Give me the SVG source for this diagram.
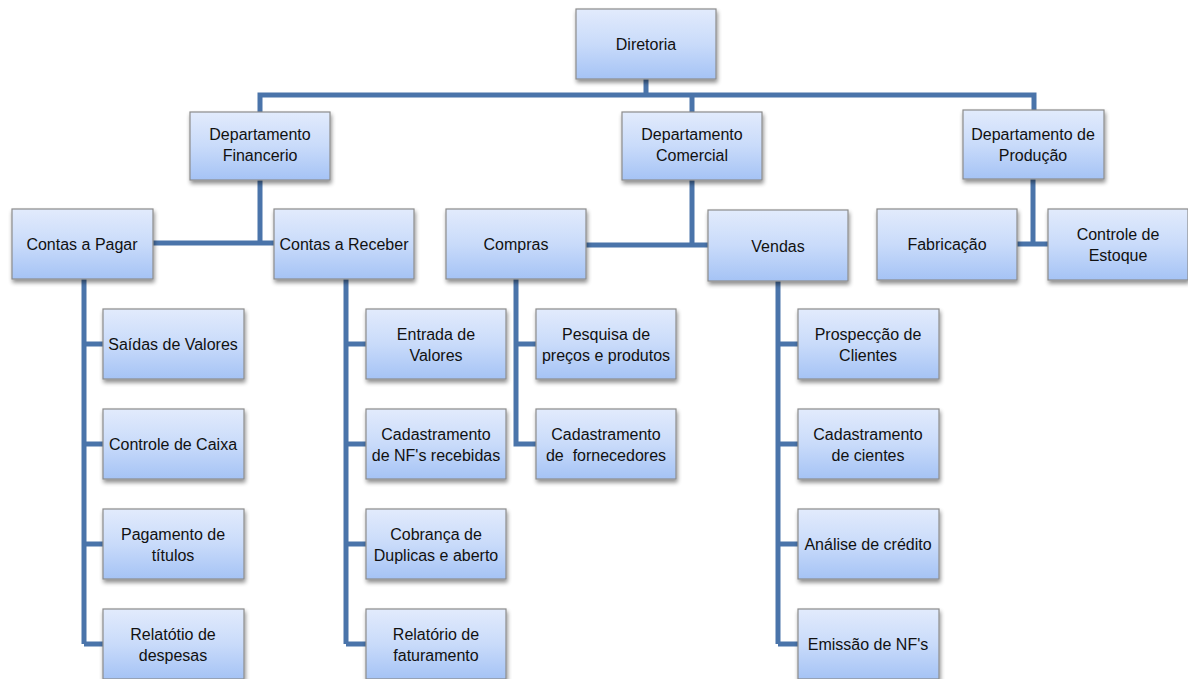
<svg xmlns="http://www.w3.org/2000/svg" width="1188" height="679" viewBox="0 0 1188 679">
<style>
.box{fill:url(#g);stroke:#8c8c8c;stroke-width:1.2;filter:url(#sh)}
.t{font-family:"Liberation Sans",Arial,sans-serif;font-size:16px;fill:#111;text-anchor:middle}
.c{fill:none;stroke:#4a74aa;stroke-width:5;stroke-linejoin:miter}
</style>
<defs>
<linearGradient id="g" x1="0" y1="0" x2="0" y2="1">
<stop offset="0" stop-color="#e2ebfc"/>
<stop offset="0.5" stop-color="#c9dbfa"/>
<stop offset="1" stop-color="#a5c3f5"/>
</linearGradient>
<filter id="sh" x="-10%" y="-10%" width="125%" height="135%">
<feGaussianBlur in="SourceAlpha" stdDeviation="2"/>
<feOffset dx="1" dy="3" result="b"/>
<feComponentTransfer><feFuncA type="linear" slope="0.45"/></feComponentTransfer>
<feMerge><feMergeNode/><feMergeNode in="SourceGraphic"/></feMerge>
</filter>
</defs>
<g id="connectors">
<path class="c" d="M646 79V95M260 113V95H1034V113M692 95V113"/>
<path class="c" d="M260 180V243M153 243H274"/>
<path class="c" d="M692 180V245M586 245H708"/>
<path class="c" d="M1033 179V244M1017 244H1048"/>
<path class="c" d="M84 279V644M84 344H103M84 444H103M84 544H103M84 644H103"/>
<path class="c" d="M346 279V644M346 344H366M346 444H366M346 544H366M346 644H366"/>
<path class="c" d="M516 279V444H536M516 344H536"/>
<path class="c" d="M778 281V644M778 344H798M778 444H798M778 544H798M778 644H798"/>
</g>
<g id="diretoria"><rect class="box" x="576" y="9" width="140" height="70"/><text class="t" x="646" y="50">Diretoria</text></g>
<g id="dep-financeiro"><rect class="box" x="190" y="112" width="140" height="68"/><text class="t" x="260" y="140">Departamento</text><text class="t" x="260" y="161">Financerio</text></g>
<g id="dep-comercial"><rect class="box" x="622" y="112" width="140" height="68"/><text class="t" x="692" y="140">Departamento</text><text class="t" x="692" y="161">Comercial</text></g>
<g id="dep-producao"><rect class="box" x="963" y="110" width="141" height="69"/><text class="t" x="1033" y="140">Departamento de</text><text class="t" x="1033" y="161">Produção</text></g>
<g id="contas-pagar"><rect class="box" x="12" y="209" width="141" height="70"/><text class="t" x="82" y="250">Contas a Pagar</text></g>
<g id="contas-receber"><rect class="box" x="274" y="209" width="140" height="70"/><text class="t" x="344" y="250">Contas a Receber</text></g>
<g id="compras"><rect class="box" x="446" y="209" width="140" height="70"/><text class="t" x="516" y="250">Compras</text></g>
<g id="vendas"><rect class="box" x="708" y="210" width="140" height="71"/><text class="t" x="778" y="252">Vendas</text></g>
<g id="fabricacao"><rect class="box" x="877" y="209" width="140" height="71"/><text class="t" x="947" y="250">Fabricação</text></g>
<g id="controle-estoque"><rect class="box" x="1048" y="209" width="140" height="71"/><text class="t" x="1118" y="240">Controle de</text><text class="t" x="1118" y="261">Estoque</text></g>
<g id="saidas-valores"><rect class="box" x="103" y="309" width="141" height="70"/><text class="t" x="173" y="350">Saídas de Valores</text></g>
<g id="controle-caixa"><rect class="box" x="103" y="409" width="141" height="70"/><text class="t" x="173" y="450">Controle de Caixa</text></g>
<g id="pagamento-titulos"><rect class="box" x="103" y="509" width="141" height="70"/><text class="t" x="173" y="540">Pagamento de</text><text class="t" x="173" y="561">títulos</text></g>
<g id="relatotio-despesas"><rect class="box" x="103" y="609" width="141" height="70"/><text class="t" x="173" y="640">Relatótio de</text><text class="t" x="173" y="661">despesas</text></g>
<g id="entrada-valores"><rect class="box" x="366" y="309" width="140" height="70"/><text class="t" x="436" y="340">Entrada de</text><text class="t" x="436" y="361">Valores</text></g>
<g id="cadastramento-nf"><rect class="box" x="366" y="409" width="140" height="70"/><text class="t" x="436" y="440">Cadastramento</text><text class="t" x="436" y="461">de NF's recebidas</text></g>
<g id="cobranca"><rect class="box" x="366" y="509" width="140" height="70"/><text class="t" x="436" y="540">Cobrança de</text><text class="t" x="436" y="561">Duplicas e aberto</text></g>
<g id="relatorio-faturamento"><rect class="box" x="366" y="609" width="140" height="70"/><text class="t" x="436" y="640">Relatório de</text><text class="t" x="436" y="661">faturamento</text></g>
<g id="pesquisa-precos"><rect class="box" x="536" y="309" width="140" height="70"/><text class="t" x="606" y="340">Pesquisa de</text><text class="t" x="606" y="361">preços e produtos</text></g>
<g id="cadastramento-fornecedores"><rect class="box" x="536" y="409" width="140" height="70"/><text class="t" x="606" y="440">Cadastramento</text><text class="t" x="606" y="461" xml:space="preserve">de  fornecedores</text></g>
<g id="prospeccao-clientes"><rect class="box" x="798" y="309" width="141" height="70"/><text class="t" x="868" y="340">Prospecção de</text><text class="t" x="868" y="361">Clientes</text></g>
<g id="cadastramento-cientes"><rect class="box" x="798" y="409" width="141" height="70"/><text class="t" x="868" y="440">Cadastramento</text><text class="t" x="868" y="461">de cientes</text></g>
<g id="analise-credito"><rect class="box" x="798" y="509" width="141" height="70"/><text class="t" x="868" y="550">Análise de crédito</text></g>
<g id="emissao-nf"><rect class="box" x="798" y="609" width="141" height="70"/><text class="t" x="868" y="650">Emissão de NF's</text></g>
</svg>
